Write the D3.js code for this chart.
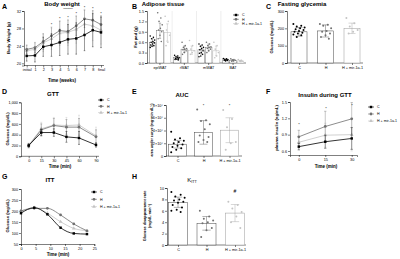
<!DOCTYPE html>
<html lang="en">
<head>
<meta charset="UTF-8">
<title>Metabolic panels</title>
<script src="https://cdn.jsdelivr.net/npm/d3@7"></script>
<style>
  body { margin: 0; background: #fff; }
  svg { font-family: "Liberation Sans", Arial, sans-serif; }
  .axis path, .axis line { stroke: #000; stroke-width: 0.5; }
  .axis text { font-size: 3.8px; fill: #000; }
</style>
</head>
<body>
<svg id="fig" width="400" height="259"></svg>
<script>
// ---- data ----
const groups = ["C", "H", "H + mir-1a-1"];

// A body weight
const weekLabels = ["initial", "1", "2", "3", "4", "5", "6", "7", "8", "final"];
const bwC = [21.7, 21.8, 23.8, 24.2, 24.8, 25.5, 25.7, 26.5, 27.6, 27.1];
const bwH = [23.2, 23.6, 25.0, 26.3, 27.5, 27.3, 28.6, 30.2, 29.9, 28.9];
const bwM = [22.9, 23.2, 24.7, 25.6, 26.9, 27.1, 27.8, 29.0, 28.6, 27.6];
const bwSdC = [1.2, 1.5, 2.2, 2.6, 3.0, 3.4, 3.6, 3.6, 3.8, 3.5];
const bwSdH = [1.0, 1.2, 1.8, 2.0, 2.2, 2.6, 2.2, 2.0, 2.2, 2.0];
const bwSdM = [1.2, 1.4, 2.0, 2.4, 2.8, 3.0, 3.2, 3.4, 3.4, 3.2];
const bwStars = ["", "", "", "*", "*", "*", "*", "*", "*", "*"];

// B adipose tissue
const fatDepots = ["epiWAT", "rWAT", "mWAT", "BAT"];
const fatC = [0.60, 0.16, 0.38, 0.09];
const fatH = [0.93, 0.40, 0.45, 0.08];
const fatM = [0.88, 0.37, 0.35, 0.06];
const fatSdC = [0.10, 0.04, 0.12, 0.02];
const fatSdH = [0.22, 0.09, 0.10, 0.02];
const fatSdM = [0.25, 0.12, 0.14, 0.02];
const fatPtsC = [
  [0.78, 0.74, 0.70, 0.66, 0.62, 0.60, 0.58, 0.55, 0.52, 0.50, 0.48, 0.45],
  [0.22, 0.20, 0.18, 0.16, 0.15, 0.13, 0.12, 0.11, 0.10, 0.09],
  [0.55, 0.52, 0.48, 0.45, 0.42, 0.38, 0.35, 0.30, 0.28, 0.25, 0.20, 0.18],
  [0.13, 0.12, 0.11, 0.10, 0.09, 0.08, 0.07, 0.06]
];
const fatPtsH = [
  [1.45, 1.30, 1.20, 1.10, 1.00, 0.95, 0.90, 0.80, 0.70, 0.62],
  [0.60, 0.50, 0.45, 0.42, 0.40, 0.38, 0.35, 0.30, 0.25],
  [0.60, 0.55, 0.50, 0.47, 0.45, 0.42, 0.40, 0.35, 0.30],
  [0.12, 0.10, 0.09, 0.08, 0.06, 0.05]
];
const fatPtsM = [
  [1.35, 1.20, 0.95, 0.80, 0.60, 0.50],
  [0.65, 0.50, 0.40, 0.35, 0.30, 0.25],
  [0.60, 0.50, 0.40, 0.30, 0.20, 0.15],
  [0.10, 0.08, 0.06, 0.05, 0.04]
];

// C fasting glycemia
const glyMean = [180, 185, 200];
const glySd = [25, 35, 30];
const glyPts = [
  [225, 215, 210, 205, 200, 195, 190, 185, 180, 175, 170, 165, 160, 150],
  [225, 220, 215, 200, 185, 180, 170, 160, 150, 140],
  [260, 230, 210, 190, 180, 170]
];

// D GTT
const gttTimes = [0, 15, 30, 45, 60, 90];
const gttC = [200, 440, 440, 360, 340, 210];
const gttH = [195, 490, 570, 540, 540, 360];
const gttM = [205, 510, 580, 570, 580, 380];
const gttSdC = [30, 60, 70, 100, 120, 40];
const gttSdH = [40, 110, 130, 140, 160, 130];
const gttSdM = [40, 120, 140, 150, 180, 160];

// E AUC
const aucMean = [18500, 37000, 40500];
const aucSd = [6000, 18500, 19500];
const aucPts = [
  [38000, 28000, 26000, 24000, 22000, 20000, 18000, 16000, 14000, 12000, 10000, 6000],
  [73000, 56000, 55000, 50000, 42000, 32000, 30000, 25000, 22000, 22000],
  [72000, 58000, 45000, 22000, 20000, 10000]
];
const aucStars = ["", "*", "*"];

// F insulin
const insTimes = [0, 15, 30];
const insC = [0.68, 0.77, 0.83];
const insH = [0.86, 1.05, 1.19];
const insM = [0.76, 0.89, 0.90];
const insSdC = [0.06, 0.12, 0.20];
const insSdH = [0.12, 0.28, 0.30];
const insSdM = [0.10, 0.22, 0.30];

// G ITT
const ittTimes = [0, 4.5, 9, 13.5, 18, 22.5];
const ittC = [190, 215, 185, 124, 98, 95];
const ittH = [200, 212, 212, 182, 141, 110];
const ittM = [200, 215, 190, 151, 121, 110];

// H KITT
const kittMean = [7.5, 3.8, 5.6];
const kittSd = [0.9, 1.2, 1.5];
const kittPts = [
  [9.3, 8.8, 8.5, 8.3, 8.0, 7.8, 7.6, 7.4, 7.0, 6.6, 6.2, 6.0, 5.8],
  [6.0, 5.0, 4.6, 4.3, 4.0, 3.8, 3.0, 2.6, 1.4],
  [7.6, 7.0, 6.4, 5.8, 5.0, 4.0, 3.0]
];

// ---- drawing ----
const svg = d3.select("#fig");
const colors = ["#000", "#707070", "#c4c4c4"];
const symbols = [d3.symbolSquare, d3.symbolCircle, d3.symbolTriangle];

function txt(x, y, s, size, opts = {}) {
  const t = svg.append("text").attr("x", x).attr("y", y)
    .attr("font-size", size).attr("text-anchor", opts.anchor || "middle")
    .attr("font-weight", opts.bold ? "bold" : null).attr("fill", "#000").text(s);
  if (opts.rotate) t.attr("transform", `rotate(-90,${x},${y})`);
  return t;
}

function yAxis(x, y, ticks, fmt) {
  const ax = d3.axisLeft(y).tickValues(ticks).tickSize(2).tickPadding(1);
  if (fmt) ax.tickFormat(fmt);
  svg.append("g").attr("class", "axis").attr("transform", `translate(${x},0)`).call(ax);
}

function xAxis(y, x, ticks) {
  const ax = d3.axisBottom(x).tickSize(2).tickPadding(1);
  if (ticks) ax.tickValues(ticks);
  svg.append("g").attr("class", "axis").attr("transform", `translate(0,${y})`).call(ax);
}

function errBar(g, x, y0, y1, color, cap) {
  g.append("line").attr("x1", x).attr("x2", x).attr("y1", y0).attr("y2", y1)
    .attr("stroke", color).attr("stroke-width", 0.4);
  [y0, y1].forEach(yy => g.append("line").attr("x1", x - cap).attr("x2", x + cap)
    .attr("y1", yy).attr("y2", yy).attr("stroke", color).attr("stroke-width", 0.4));
}

function legend(x, y, gap) {
  groups.forEach((name, i) => {
    const yy = y + i * gap;
    svg.append("line").attr("x1", x - 3).attr("x2", x + 3).attr("y1", yy).attr("y2", yy)
      .attr("stroke", colors[i]).attr("stroke-width", 0.6);
    svg.append("path").attr("d", d3.symbol(symbols[i], 6)())
      .attr("transform", `translate(${x},${yy})`).attr("fill", colors[i]);
    txt(x + 6, yy + 1.3, name, 3.6, { anchor: "start" });
  });
}

// series are given in group order: C, H, H + mir-1a-1
function lineSeries(x, y, xs, series, sds, curve, cap) {
  const g = svg.append("g");
  const order = [2, 1, 0]; // draw light first so black stays on top
  order.forEach(i => {
    const vals = series[i];
    const line = d3.line().x((d, j) => x(xs[j])).y(d => y(d)).curve(curve || d3.curveLinear);
    if (sds) vals.forEach((v, j) => errBar(g, x(xs[j]), y(v - sds[i][j]), y(v + sds[i][j]), colors[i], cap || 1));
    g.append("path").attr("d", line(vals)).attr("fill", "none")
      .attr("stroke", colors[i]).attr("stroke-width", 0.8);
    vals.forEach((v, j) => g.append("path").attr("d", d3.symbol(symbols[i], 6)())
      .attr("transform", `translate(${x(xs[j])},${y(v)})`).attr("fill", colors[i]));
  });
}

function barPanel(x, y, means, sds, pts, bw, dotR) {
  const g = svg.append("g");
  groups.forEach((name, i) => {
    const cx = x(name);
    g.append("rect").attr("x", cx - bw / 2).attr("width", bw)
      .attr("y", y(means[i])).attr("height", y(0) - y(means[i]))
      .attr("fill", "#fff").attr("stroke", i === 2 ? "#999" : "#444").attr("stroke-width", 0.5);
    errBar(g, cx, y(means[i] - sds[i]), y(means[i] + sds[i]), i === 2 ? "#999" : "#444", bw * 0.22);
    pts[i].forEach((v, j) => g.append("circle")
      .attr("cx", cx + ((j * 7) % 11 - 5) * bw * 0.07).attr("cy", y(v)).attr("r", dotR || 0.9)
      .attr("fill", colors[i]));
  });
}

// panel letters
[["A", 2, 9], ["B", 132, 9], ["C", 266, 9], ["D", 2, 94], ["E", 132, 94], ["F", 266, 94], ["G", 2, 179], ["H", 132, 179]]
  .forEach(([s, x, y]) => txt(x, y, s, 7, { anchor: "start", bold: true }));

// ---- A ----
{
  const x = d3.scalePoint().domain(weekLabels).range([26.7, 101]);
  const y = d3.scaleLinear().domain([19.5, 32]).range([65.5, 11]);
  yAxis(24, y, [20, 24, 28, 32]);
  svg.append("g").attr("class", "axis").attr("transform", "translate(0,65.5)")
    .call(d3.axisBottom(x).tickSize(2).tickPadding(1))
    .call(g => g.select(".domain").attr("d", "M24,0H104"));
  lineSeries(x, y, weekLabels, [bwC, bwH, bwM], [bwSdC, bwSdH, bwSdM], null, 0.8);
  bwStars.forEach((s, j) => { if (s) txt(x(weekLabels[j]), y(bwH[j] + bwSdH[j]) - 1, s, 4); });
  txt(62, 6, "Body weight", 6, { bold: true });
  txt(x("5"), 9, "Injection", 2.5);
  txt(62, 82, "Time (weeks)", 4.5, { bold: true });
  txt(10, 38, "Body Weight (g)", 4.2, { rotate: true, bold: true });
}

// ---- B ----
{
  const x0 = d3.scaleBand().domain(fatDepots).range([148, 245]).paddingInner(0.12).paddingOuter(0.05);
  const x1 = d3.scaleBand().domain(groups).range([0, x0.bandwidth()]).paddingInner(0.12);
  const y = d3.scaleLinear().domain([0, 1.5]).range([63, 11]);
  fatDepots.slice(1).forEach(d => svg.append("line")
    .attr("x1", x0(d) - x0.step() * 0.06).attr("x2", x0(d) - x0.step() * 0.06)
    .attr("y1", 11).attr("y2", 63).attr("stroke", "#ddd").attr("stroke-width", 0.5));
  yAxis(147, y, [0, 0.3, 0.6, 0.9, 1.2, 1.5], d3.format(".1f"));
  svg.append("g").attr("class", "axis").attr("transform", "translate(0,63)")
    .call(d3.axisBottom(x0).tickSize(2).tickPadding(1))
    .call(g => g.select(".domain").attr("d", "M147,0H246"));
  const means = [fatC, fatH, fatM], sds = [fatSdC, fatSdH, fatSdM], pts = [fatPtsC, fatPtsH, fatPtsM];
  const g = svg.append("g");
  fatDepots.forEach((dep, k) => groups.forEach((grp, i) => {
    const bx = x0(dep) + x1(grp), bw = x1.bandwidth(), cx = bx + bw / 2;
    g.append("rect").attr("x", bx).attr("width", bw).attr("y", y(means[i][k]))
      .attr("height", y(0) - y(means[i][k])).attr("fill", "#fff")
      .attr("stroke", i === 2 ? "#aaa" : "#555").attr("stroke-width", 0.4);
    errBar(g, cx, y(means[i][k] - sds[i][k]), y(means[i][k] + sds[i][k]), i === 2 ? "#aaa" : "#555", 1.2);
    pts[i][k].forEach((v, j) => g.append("circle")
      .attr("cx", cx + ((j * 7) % 11 - 5) * 0.45).attr("cy", y(v)).attr("r", 0.8).attr("fill", colors[i]));
  }));
  txt(163, 6, "Adipose tissue", 6, { bold: true });
  txt(137, 37, "Fat pad (g)", 4.2, { rotate: true, bold: true });
  legend(236, 15, 4.3);
}

// ---- C ----
{
  const x = d3.scalePoint().domain(groups).range([299, 352]);
  const y = d3.scaleLinear().domain([0, 300]).range([63, 11]);
  yAxis(287, y, [0, 100, 200, 300]);
  svg.append("g").attr("class", "axis").attr("transform", "translate(0,63)")
    .call(d3.axisBottom(x).tickSize(2).tickPadding(1))
    .call(g => g.select(".domain").attr("d", "M287,0H363"));
  barPanel(x, y, glyMean, glySd, glyPts, 16, 1);
  txt(302, 6, "Fasting glycemia", 6, { bold: true });
  txt(273, 37, "Glucose (mg/dL)", 4.2, { rotate: true, bold: true });
}

// ---- D ----
{
  const x = d3.scaleLinear().domain([0, 60, 90]).range([28.7, 79, 96]);
  const y = d3.scaleLinear().domain([0, 1000]).range([156.3, 102.3]);
  yAxis(21, y, [0, 200, 400, 600, 800, 1000]);
  svg.append("g").attr("class", "axis").attr("transform", "translate(0,156.3)")
    .call(d3.axisBottom(x).tickValues(gttTimes).tickSize(2).tickPadding(1))
    .call(g => g.select(".domain").attr("d", "M21,0H99"));
  lineSeries(x, y, gttTimes, [gttC, gttH, gttM], [gttSdC, gttSdH, gttSdM], null, 1);
  txt(53, 96, "GTT", 6, { bold: true });
  txt(60, 168, "Time (min)", 4.5, { bold: true });
  txt(9, 129, "Glucose (mg/dL)", 4.2, { rotate: true, bold: true });
  legend(101, 100, 6.3);
}

// ---- E ----
{
  const x = d3.scalePoint().domain(groups).range([177.5, 229.5]);
  const y = d3.scaleLinear().domain([0, 80000]).range([156, 105]);
  const sup = { 2: "2×10⁴", 4: "4×10⁴", 6: "6×10⁴", 8: "8×10⁴" };
  yAxis(166, y, [0, 20000, 40000, 60000, 80000], v => v === 0 ? "0" : sup[v / 10000]);
  svg.append("g").attr("class", "axis").attr("transform", "translate(0,156)")
    .call(d3.axisBottom(x).tickSize(2).tickPadding(1))
    .call(g => g.select(".domain").attr("d", "M166,0H242"));
  barPanel(x, y, aucMean, aucSd, aucPts, 18, 1);
  aucStars.forEach((s, i) => { if (s) txt(x(groups[i]), 107, s, 4); });
  txt(182, 97, "AUC", 6, { bold: true });
  txt(153, 130, "area under curve (mg·min·dL⁻¹)", 3.6, { rotate: true, bold: true });
}

// ---- F ----
{
  const x = d3.scaleLinear().domain([-5, 33]).range([290, 357]);
  const y = d3.scaleLinear().domain([0.526, 1.5]).range([155, 102]);
  yAxis(290, y, [0.6, 0.9, 1.2, 1.5], d3.format(".1f"));
  xAxis(155, x, insTimes);
  lineSeries(x, y, insTimes, [insC, insH, insM], [insSdC, insSdH, insSdM], null, 1.2);
  txt(299, 126, "*", 4); txt(326, 110, "*", 4); txt(352, 107, "*", 4);
  txt(325, 97, "Insulin during GTT", 6, { bold: true });
  txt(326, 168, "Time (min)", 4.5, { bold: true });
  txt(278, 128, "plasma insulin (ng/mL)", 4.2, { rotate: true, bold: true });
  legend(371, 107, 7);
}

// ---- G ----
{
  const x = d3.scaleLinear().domain([0, 25]).range([21, 94.3]);
  const y = d3.scaleLinear().domain([50, 300]).range([244, 189]);
  yAxis(21, y, [50, 100, 150, 200, 250, 300]);
  xAxis(244, x, [0, 5, 10, 15, 20, 25]);
  lineSeries(x, y, ittTimes, [ittC, ittH, ittM], null, d3.curveMonotoneX);
  txt(50, 182, "ITT", 6, { bold: true });
  txt(58, 256, "Time (min)", 4.5, { bold: true });
  txt(9, 216, "Glucose (mg/dL)", 4.2, { rotate: true, bold: true });
  legend(94, 192, 7.3);
}

// ---- H ----
{
  const x = d3.scalePoint().domain(groups).range([178, 235]);
  const y = d3.scaleLinear().domain([0, 10]).range([245, 188]);
  yAxis(167, y, [0, 2, 4, 6, 8, 10]);
  svg.append("g").attr("class", "axis").attr("transform", "translate(0,245)")
    .call(d3.axisBottom(x).tickSize(2).tickPadding(1))
    .call(g => g.select(".domain").attr("d", "M167,0H246"));
  barPanel(x, y, kittMean, kittSd, kittPts, 19, 1);
  txt(x(groups[2]), 193, "#", 5);
  const t = txt(192, 182, "K", 6);
  t.append("tspan").attr("font-size", 3.8).attr("dy", 1.2).text("ITT");
  txt(146, 216, "Glucose disappearance rate", 3.8, { rotate: true, bold: true });
  txt(151, 216, "(mg/dL·min⁻¹)", 3.8, { rotate: true, bold: true });
}
</script>
</body>
</html>
